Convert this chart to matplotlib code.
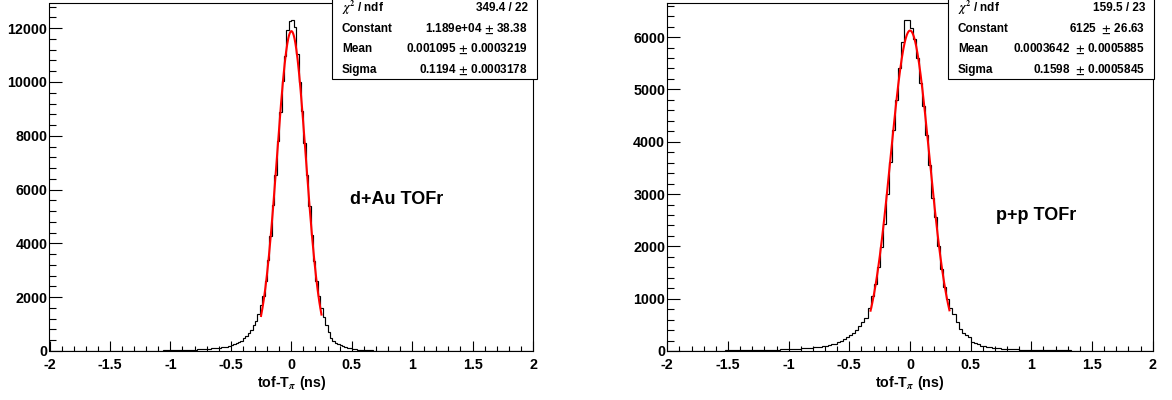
import numpy as np
import matplotlib
matplotlib.use('Agg')
import matplotlib.pyplot as plt
from matplotlib.patches import Rectangle
from matplotlib.ticker import MultipleLocator

plt.rcParams['font.family'] = ['Liberation Sans', 'DejaVu Sans']
plt.rcParams['font.weight'] = 'bold'
plt.rcParams['mathtext.fontset'] = 'stix'
plt.rcParams['axes.unicode_minus'] = False

# ----------------------------
# d+Au: 200 bins de 0.02 ns en [-2, 2]
# ----------------------------
dau_counts = (
    [1, 1, 1, 1, 1, 1, 1, 2, 2, 2, 2, 2, 2, 2, 2, 3, 3, 3, 3, 3, 3, 4, 4, 4, 4]
    + [5, 5, 5, 6, 6, 6, 7, 7, 8, 8, 9, 9, 10, 10, 11, 12, 13, 14, 15, 16, 17, 18, 20, 21, 23]
    + [25, 28, 30, 32, 35, 38, 42, 46, 50, 52]
    + [55, 60, 64, 68, 74, 80, 88, 95, 104, 112]
    + [122, 135, 148, 165, 190, 215, 245, 285, 330, 390]
    + [473, 573, 660, 785, 960, 1100, 1380, 1700]
    + [2050, 2600, 3400, 4280, 5430, 6540, 7800, 8900, 10050, 10950, 11935, 12272,
       12320, 12062, 11050, 10000, 8930, 7750, 6560, 5380, 4330, 3330, 2600, 2050]
    + [1600, 1250, 960, 690, 500, 380, 300, 250, 205, 170, 140, 115, 95]
    + [78, 64, 52, 43, 36, 31, 27, 24, 21, 18, 16, 14, 12, 11, 10, 9, 8, 7, 7, 6, 6, 5, 5, 4, 4]
    + [4, 3, 3, 3, 3, 3, 3, 2, 2, 2, 2, 2, 2, 2, 2, 2, 1, 1, 1, 1, 1, 1, 1, 1, 1,
       1, 1, 1, 1, 1, 1, 1, 1, 1, 1, 0, 0, 0, 0, 0, 0, 0, 0, 0, 0, 0, 0, 0, 0, 0]
)
dau_nbins = 200
dau_const, dau_mean, dau_sigma = 1.189e4, 0.001095, 0.1194
dau_fit_range = (-0.25, 0.25)
dau_stats = ['349.4 / 22', '1.189e+04 $\\pm$ 38.38',
             '0.001095 $\\pm$ 0.0003219', '0.1194 $\\pm$ 0.0003178']
dau_label = 'd+Au TOFr'

# ----------------------------
# p+p: 160 bins de 0.025 ns en [-2, 2]
# ----------------------------
pp_counts = (
    [3, 3, 3, 4, 4, 4, 4, 5, 5, 5, 6, 6, 6, 7, 7, 8, 8, 9, 9, 10]
    + [11, 11, 12, 13, 14, 15, 16, 17, 18, 19, 20, 21, 22, 23, 25, 26, 28, 30, 31, 33]
    + [35, 38, 41, 45, 49, 53, 57, 62]
    + [68, 74, 82, 92, 102, 112, 125, 140]
    + [165, 190, 220, 260, 300, 345, 400, 470]
    + [560, 640, 820, 1050]
    + [1280, 1600, 1980, 2420, 3000, 3620, 4230, 4800, 5400, 5900, 6330, 6335,
       6170, 5960, 5600, 5130, 4680, 4130, 3560, 2920, 2560, 2000, 1570, 1230]
    + [1000, 820, 700, 560, 420, 350, 310, 270, 180, 150, 130, 100, 90, 80, 70, 62, 55, 50, 45, 41]
    + [38, 35, 32, 30, 28, 26, 24, 22]
    + [20, 19, 18, 17, 16, 15, 14, 13, 12, 12, 11, 10, 10, 9, 9, 8, 8, 7, 7, 6]
    + [6, 6, 5, 5, 5, 4, 4, 4, 4, 3, 3, 3, 3, 3, 2, 2, 2, 2, 2, 2]
)
pp_nbins = 160
pp_const, pp_mean, pp_sigma = 6125, 0.0003642, 0.1598
pp_fit_range = (-0.325, 0.325)
pp_stats = ['159.5 / 23', '6125  $\\pm$ 26.63',
            '0.0003642  $\\pm$ 0.0005885', '0.1598  $\\pm$ 0.0005845']
pp_label = 'p+p TOFr'

stat_names = ['$\\chi^{2}$ / ndf', 'Constant', 'Mean', 'Sigma']
x_lo, x_hi = -2, 2

W, H = 1172, 400
fig = plt.figure(figsize=(W / 100, H / 100), dpi=100)


def px(x, y):
    # pixel (desde arriba-izquierda) -> fraccion de figura
    return x / W, 1 - y / H


def panel(left, right, counts, nbins, const, mean, sigma, fit_range,
          ymajor, yminor, stats, box, label, label_pos):
    x0, y0 = px(left, 351)
    x1, y1 = px(right, 3)
    ax = fig.add_axes([x0, y0, x1 - x0, y1 - y0])

    edges = np.linspace(x_lo, x_hi, nbins + 1)
    ax.stairs(counts, edges, color='black', lw=0.85)

    # ajuste gaussiano
    xf = np.linspace(fit_range[0], fit_range[1], 300)
    yf = const * np.exp(-0.5 * ((xf - mean) / sigma) ** 2)
    ax.plot(xf, yf, color='red', lw=1.5)

    ax.set_xlim(x_lo, x_hi)
    ax.set_ylim(0, 1.05 * max(counts))
    ax.xaxis.set_major_locator(MultipleLocator(0.5))
    ax.xaxis.set_minor_locator(MultipleLocator(0.1))
    ax.yaxis.set_major_locator(MultipleLocator(ymajor))
    ax.yaxis.set_minor_locator(MultipleLocator(yminor))
    ax.xaxis.set_major_formatter(plt.FuncFormatter(lambda v, p: f'{v:g}'))
    ax.tick_params(axis='both', which='both', direction='in', width=0.8,
                   labelsize=10.3, top=False, right=False)
    ax.tick_params(axis='x', which='major', length=7.2, pad=5)
    ax.tick_params(axis='x', which='minor', length=3.6)
    ax.tick_params(axis='y', which='major', length=9.5, pad=1.5)
    ax.tick_params(axis='y', which='minor', length=4.7)
    for s in ax.spines.values():
        s.set_linewidth(0.8)

    ax.set_xlabel('tof-T$_{\\pi}$ (ns)', fontsize=10.3, fontweight='bold')
    ax.xaxis.set_label_coords(0.5, -(383 - 351) / 348, transform=ax.transAxes)
    ax.xaxis.label.set_va('center')

    # cuadro de estadisticas
    bx0, by0 = px(box[0], 79)
    bx1, by1 = px(box[1], -2)
    fig.add_artist(Rectangle((bx0, by0), bx1 - bx0, by1 - by0, transform=fig.transFigure,
                             facecolor='white', edgecolor='black', lw=0.8, zorder=5))
    rows_y = [8.3, 29, 49.3, 70.3]
    for name, val, ry in zip(stat_names, stats, rows_y):
        fx, fy = px(box[0] + 10.5, ry)
        fig.text(fx, fy, name, fontsize=8.5, fontweight='bold', va='center', ha='left', zorder=6)
        fx, fy = px(box[1] - 8.5, ry)
        fig.text(fx, fy, val, fontsize=8.5, fontweight='bold', va='center', ha='right', zorder=6)

    tx, ty = px(*label_pos)
    fig.text(tx, ty, label, fontsize=13, fontweight='bold', va='center', ha='left')
    return ax


panel(49.5, 533, dau_counts, dau_nbins, dau_const, dau_mean, dau_sigma, dau_fit_range,
      2000, 400, dau_stats, (331.5, 536.5), dau_label, (350.5, 200))
panel(667.3, 1152.7, pp_counts, pp_nbins, pp_const, pp_mean, pp_sigma, pp_fit_range,
      1000, 200, pp_stats, (947.5, 1153.5), pp_label, (996, 215))

fig.savefig('out.png', dpi=100)
